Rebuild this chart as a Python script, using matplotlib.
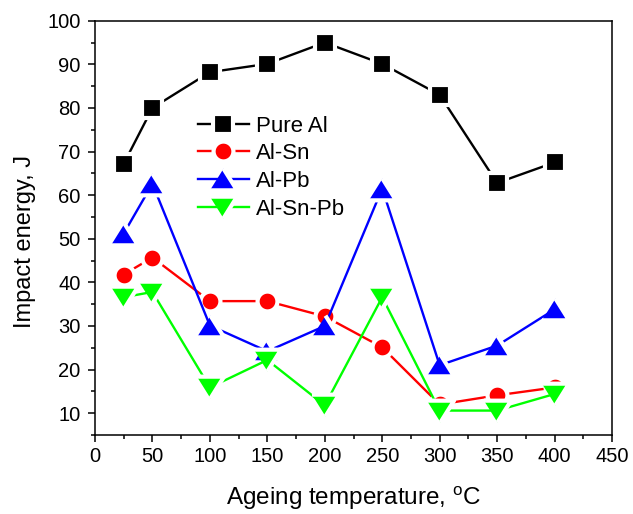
import matplotlib
matplotlib.use('Agg')
import matplotlib.pyplot as plt
from matplotlib.markers import MarkerStyle
from matplotlib.ticker import MultipleLocator

plt.rcParams['font.family'] = ['Liberation Sans', 'DejaVu Sans']

temps = [25, 50, 100, 150, 200, 250, 300, 350, 400]
pure_al = [67.2, 80.0, 88.2, 90.1, 95.0, 90.1, 83.0, 62.8, 67.5]
al_sn = [41.8, 45.7, 35.7, 35.7, 32.2, 25.1, 12.0, 14.1, 15.9]
al_pb = [51.2, 62.6, 30.1, 24.2, 30.0, 61.5, 21.0, 25.5, 33.8]
al_sn_pb = [36.6, 37.8, 15.9, 22.2, 11.8, 36.6, 10.6, 10.6, 14.4]
series_names = ['Pure Al', 'Al-Sn', 'Al-Pb', 'Al-Sn-Pb']

x_label = 'Ageing temperature, $\\mathregular{^{o}}$C'
y_label = 'Impact energy, J'

fig = plt.figure(figsize=(6.33, 5.14), dpi=100)
ax = fig.add_axes([95/633, 1-435/514, (612-95)/633, (435-20.7)/514])

tri_up = MarkerStyle([(-1, -0.8), (1, -0.8), (0, 0.8)], joinstyle='round')
tri_dn = MarkerStyle([(-1, 0.8), (1, 0.8), (0, -0.8)], joinstyle='round')
sq = MarkerStyle('s', joinstyle='round')
circ = MarkerStyle('o')

edge = 3.0
styles = [
    (pure_al, 'black', sq, 14.3),
    (al_sn, '#ff0000', circ, 14.3),
    (al_pb, '#0000ff', tri_up, 19.5),
    (al_sn_pb, '#00ff00', tri_dn, 19.5),
]
for (vals, col, mk, ms), name in zip(styles, series_names):
    ax.plot(temps, vals, color=col, lw=1.7, marker=mk, markersize=ms,
            markerfacecolor=col, markeredgecolor='white', markeredgewidth=edge,
            label=name)

ax.set_xlim(0, 450)
ax.set_ylim(5, 100)
ax.xaxis.set_major_locator(MultipleLocator(50))
ax.xaxis.set_minor_locator(MultipleLocator(25))
ax.yaxis.set_minor_locator(MultipleLocator(5))
ax.set_yticks(range(10, 101, 10))
ax.tick_params(which='both', direction='out', top=False, right=False, width=1.1)
ax.tick_params(which='major', length=5, labelsize=14.5)
ax.tick_params(axis='x', which='major', pad=3.5)
ax.tick_params(axis='y', which='major', pad=5.5)
ax.tick_params(which='minor', length=2.8)
for s in ax.spines.values():
    s.set_linewidth(1.1)

ax.set_xlabel(x_label, fontsize=17.5, va='top')
ax.xaxis.set_label_coords(0.5, (435-485)/414.3)
ax.set_ylabel(y_label, fontsize=17, va='bottom')
ax.yaxis.set_label_coords((36-95)/517, (435-242)/414.3)

ax.legend(loc='upper left', bbox_to_anchor=(0.199, 0.771), frameon=False,
          fontsize=16, handlelength=2.3, handletextpad=0.3, labelspacing=0.3,
          borderpad=0, borderaxespad=0, numpoints=1)

fig.savefig('out.png', dpi=100)
